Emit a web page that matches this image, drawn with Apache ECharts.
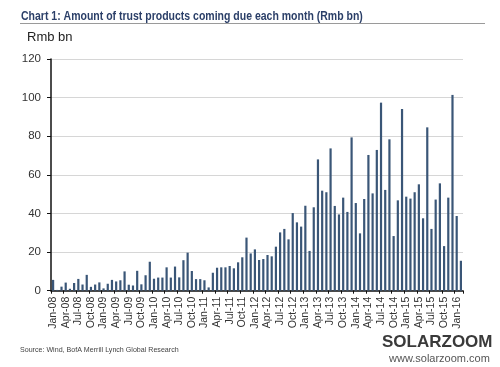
<!DOCTYPE html>
<html><head><meta charset="utf-8">
<script src="https://cdn.jsdelivr.net/npm/echarts@6/dist/echarts.min.js"></script>
<style>html,body{margin:0;padding:0;background:#fff}#c{width:500px;height:367px}</style>
</head><body><div id="c"></div>
<script>
var categories = [
'Jan-08','Feb-08','Mar-08','Apr-08','May-08','Jun-08','Jul-08','Aug-08','Sep-08','Oct-08','Nov-08','Dec-08',
'Jan-09','Feb-09','Mar-09','Apr-09','May-09','Jun-09','Jul-09','Aug-09','Sep-09','Oct-09','Nov-09','Dec-09',
'Jan-10','Feb-10','Mar-10','Apr-10','May-10','Jun-10','Jul-10','Aug-10','Sep-10','Oct-10','Nov-10','Dec-10',
'Jan-11','Feb-11','Mar-11','Apr-11','May-11','Jun-11','Jul-11','Aug-11','Sep-11','Oct-11','Nov-11','Dec-11',
'Jan-12','Feb-12','Mar-12','Apr-12','May-12','Jun-12','Jul-12','Aug-12','Sep-12','Oct-12','Nov-12','Dec-12',
'Jan-13','Feb-13','Mar-13','Apr-13','May-13','Jun-13','Jul-13','Aug-13','Sep-13','Oct-13','Nov-13','Dec-13',
'Jan-14','Feb-14','Mar-14','Apr-14','May-14','Jun-14','Jul-14','Aug-14','Sep-14','Oct-14','Nov-14','Dec-14',
'Jan-15','Feb-15','Mar-15','Apr-15','May-15','Jun-15','Jul-15','Aug-15','Sep-15','Oct-15','Nov-15','Dec-15',
'Jan-16','Feb-16'];
var amountDue = [
5.6,0.4,2.1,4.2,1.0,4.0,6.1,3.2,8.2,2.0,3.2,4.3,
1.2,3.6,5.6,4.8,5.4,10.0,3.1,2.7,10.3,3.3,8.0,15.0,
6.2,6.8,6.8,12.1,6.8,12.5,6.9,15.8,19.7,10.2,6.0,6.0,
5.4,1.7,9.3,11.9,12.1,12.1,12.8,11.6,14.7,17.3,27.5,19.3,
21.4,15.9,16.4,18.5,17.8,22.8,30.2,32.0,26.6,40.2,35.4,33.2,
44.0,20.6,43.2,68.0,51.8,51.0,73.7,43.9,39.5,48.2,40.8,79.4,
45.4,29.7,47.5,70.3,50.4,72.9,97.4,52.2,78.4,28.3,46.8,94.1,
48.7,47.7,51.0,55.1,37.5,84.6,32.0,47.2,55.6,23.1,48.2,101.4,
38.7,15.5];
var yTicks = [0,20,40,60,80,100,120];
var titleText = 'Chart 1: Amount of trust products coming due each month (Rmb bn)';
var unitText = 'Rmb bn';
var sourceText = 'Source: Wind, BofA Merrill Lynch Global Research';

var chart = echarts.init(document.getElementById('c'), null, {renderer:'canvas'});
var F = '"Liberation Sans", Arial, sans-serif';
chart.setOption({
  animation:false,
  backgroundColor:'#fff',
  grid:{left:51, right:37, top:59, bottom:76.3, containLabel:false},
  xAxis:{
    type:'category', data:categories, boundaryGap:true,
    axisLine:{show:true, lineStyle:{color:'#111', width:1.5}},
    axisTick:{show:true, interval:2, length:3, lineStyle:{color:'#111'}},
    axisLabel:{interval:2, rotate:90, fontSize:10.5, color:'#333', fontFamily:F, margin:6},
    splitLine:{show:false}
  },
  yAxis:{
    type:'value', min:yTicks[0], max:yTicks[yTicks.length-1], interval:20,
    axisLine:{show:true, lineStyle:{color:'#111', width:1.5}},
    axisTick:{show:true, length:4, lineStyle:{color:'#111'}},
    axisLabel:{fontSize:11.5, color:'#333', fontFamily:F, margin:10},
    splitLine:{show:true, lineStyle:{color:'#d6d6d6', width:1}}
  },
  series:[{
    type:'bar', data:amountDue, barWidth:2.2,
    itemStyle:{color:'#3a5677'}
  }],
  graphic:[
    {type:'text', x:21, y:10, scaleX:0.84, scaleY:1, style:{text:titleText, fontSize:12.5, fontWeight:'bold', fill:'#2b3f68', fontFamily:F}},
    {type:'line', shape:{x1:20, y1:23.5, x2:485, y2:23.5}, style:{stroke:'#9a9a9a', lineWidth:1}},
    {type:'text', left:27, top:31, style:{text:unitText, fontSize:13, fill:'#222', fontFamily:F}},
    {type:'text', left:20, top:347, style:{text:sourceText, fontSize:7.1, fill:'#444', fontFamily:F}},
    {type:'text', left:382, top:334, style:{text:'SOLARZOOM', fontSize:17, fontWeight:'bold', fill:'#3a3a3a', fontFamily:F}},
    {type:'text', left:389, top:353, style:{text:'www.solarzoom.com', fontSize:11, fill:'#555', fontFamily:F}}
  ]
});
</script></body></html>
